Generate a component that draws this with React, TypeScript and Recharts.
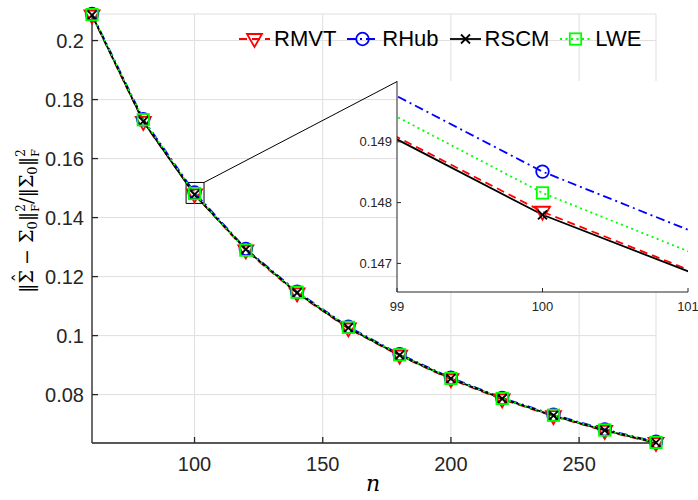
import React from "react";
import {
  LineChart, Line, XAxis, YAxis, CartesianGrid, ReferenceArea, ReferenceLine,
} from "recharts";

// ── data ───────────────────────────────────────────────────────────────────
const nValues = [60, 80, 100, 120, 140, 160, 180, 200, 220, 240, 260, 280];
const rmvt = [0.2085, 0.17245, 0.14785, 0.12885, 0.1143, 0.1024, 0.0932, 0.0852, 0.0784, 0.0727, 0.0677, 0.0636];
const rhub = [0.209, 0.17331, 0.14851, 0.12937, 0.1149, 0.103, 0.0937, 0.0857, 0.0789, 0.0732, 0.0682, 0.064];
const rscm = [0.2086, 0.1726, 0.1478, 0.1292, 0.1145, 0.1026, 0.0934, 0.0854, 0.0786, 0.0729, 0.0679, 0.0637];
const lwe = [0.2088, 0.17316, 0.14816, 0.12896, 0.1147, 0.1028, 0.0935, 0.0855, 0.0787, 0.073, 0.068, 0.0638];

const xTicks = [100, 150, 200, 250];
const yTicks = [0.08, 0.1, 0.12, 0.14, 0.16, 0.18, 0.2];
const insetXTicks = [99, 100, 101];
const insetYTicks = [0.147, 0.148, 0.149];
const insetXDomain = [99, 101];
const insetYDomain = [0.14653, 0.15];

// zoom box around n = 100 and the line joining it to the inset
const zoomBox = { x1: 96.7, x2: 103.7, y1: 0.1448, y2: 0.1519 };
const zoomLink = [{ x: 103.7, y: 0.1519 }, { x: 179, y: 0.1861 }];

const data = nValues.map((n, i) => ({ n, rmvt: rmvt[i], rhub: rhub[i], rscm: rscm[i], lwe: lwe[i] }));
const allY = [...rmvt, ...rhub, ...rscm, ...lwe];
const yDomain = [Math.min(...allY), Math.max(...allY)];
const xDomain = [nValues[0], nValues[nValues.length - 1]];

type MarkerType = "tri" | "circle" | "cross" | "square";
const series: { key: string; name: string; color: string; dash?: string; marker: MarkerType }[] = [
  { key: "rmvt", name: "RMVT", color: "#ff0000", dash: "8 5", marker: "tri" },
  { key: "rhub", name: "RHub", color: "#0000ff", dash: "9 4 2 4", marker: "circle" },
  { key: "rscm", name: "RSCM", color: "#000000", marker: "cross" },
  { key: "lwe", name: "LWE", color: "#00ff00", dash: "2 3.5", marker: "square" },
];

const AXIS = "#262626";
const SANS = "'Liberation Sans', Arial, Helvetica, sans-serif";
const SERIF = "'DejaVu Serif', serif";

function Marker({ type, cx, cy, color }: { type: MarkerType; cx: number; cy: number; color: string }) {
  const common = { fill: "none", stroke: color, strokeWidth: 1.8 };
  if (type === "tri")
    return <polygon points={`${cx - 7.5},${cy - 5} ${cx + 7.5},${cy - 5} ${cx},${cy + 8}`} {...common} />;
  if (type === "circle") return <circle cx={cx} cy={cy} r={6.3} {...common} />;
  if (type === "square") return <rect x={cx - 5.7} y={cy - 5.7} width={11.4} height={11.4} {...common} />;
  return (
    <path d={`M${cx - 4.5},${cy - 4.5}L${cx + 4.5},${cy + 4.5}M${cx - 4.5},${cy + 4.5}L${cx + 4.5},${cy - 4.5}`} {...common} />
  );
}

// ── axis labels ────────────────────────────────────────────────────────────
const YLabel = () => (
  <text
    x={33} y={221} transform="rotate(-90 33 221)" textAnchor="middle"
    fontFamily={SERIF} fontSize={19} fill="#000"
  >
    ‖Σ
    <tspan dx={-12.5} dy={-6}>ˆ</tspan>
    <tspan dx={2} dy={6}> − Σ</tspan>
    <tspan fontSize={13} dy={4}>0</tspan>
    <tspan dy={-4}>‖</tspan>
    <tspan fontSize={12} dy={-8}>2</tspan>
    <tspan fontSize={11} dx={-7.5} dy={14}>F</tspan>
    <tspan dy={-6}>/‖Σ</tspan>
    <tspan fontSize={13} dy={4}>0</tspan>
    <tspan dy={-4}>‖</tspan>
    <tspan fontSize={12} dy={-8}>2</tspan>
    <tspan fontSize={11} dx={-7.5} dy={14}>F</tspan>
  </text>
);

const XLabel = () => (
  <text x={373} y={491} textAnchor="middle" fontFamily={SERIF} fontStyle="italic" fontSize={22} fill="#000">
    n
  </text>
);

// ── legend ─────────────────────────────────────────────────────────────────
function LegendBox() {
  return (
    <div style={{ position: "absolute", left: 239, top: 26, display: "flex", alignItems: "center" }}>
      {series.map((s) => (
        <div key={s.key} style={{ display: "flex", alignItems: "center", marginRight: 11 }}>
          <svg width={31} height={26}>
            <line x1={0} y1={13} x2={31} y2={13} stroke={s.color} strokeWidth={1.8} strokeDasharray={s.dash} />
            <Marker type={s.marker} cx={15.5} cy={13} color={s.color} />
          </svg>
          <span style={{ fontFamily: SANS, fontSize: 22, lineHeight: "26px", marginLeft: 4, color: "#000" }}>{s.name}</span>
        </div>
      ))}
    </div>
  );
}

function renderLines() {
  return series.map((s) => (
    <Line
      key={s.key}
      dataKey={s.key}
      name={s.name}
      stroke={s.color}
      strokeWidth={1.8}
      strokeDasharray={s.dash}
      isAnimationActive={false}
      dot={(p: any) => <Marker key={`${s.key}-${p.index}`} type={s.marker} cx={p.cx} cy={p.cy} color={s.color} />}
      activeDot={false}
    />
  ));
}

export default function App() {
  const tickStyle = { fontSize: 20, fill: AXIS, fontFamily: SANS };
  const insetTick = { fontSize: 13, fill: AXIS, fontFamily: SANS };
  return (
    <div style={{ position: "absolute", left: 0, top: 0, width: 698, height: 500, background: "#fff", overflow: "hidden" }}>
      <LineChart width={698} height={500} data={data} margin={{ top: 14, right: 42, bottom: 27, left: 0 }}>
        <CartesianGrid stroke="#dfdfdf" strokeWidth={1} />
        <XAxis
          dataKey="n" type="number" domain={xDomain} ticks={xTicks} height={30}
          tickSize={-6} tickMargin={20} stroke={AXIS} strokeWidth={1.3} tick={tickStyle}
          label={{ content: XLabel }}
        />
        <XAxis xAxisId="top" orientation="top" type="number" domain={xDomain} ticks={xTicks} height={0}
          tickSize={-6} tick={false} stroke={AXIS} strokeWidth={1.3} />
        <YAxis
          type="number" domain={yDomain} ticks={yTicks} width={92}
          tickSize={-6} tickMargin={14} stroke={AXIS} strokeWidth={1.3} tick={tickStyle}
          tickFormatter={(v) => String(v)}
          label={{ content: YLabel }}
        />
        <YAxis yAxisId="right" orientation="right" type="number" domain={yDomain} ticks={yTicks} width={0}
          tickSize={-6} tick={false} stroke={AXIS} strokeWidth={1.3} />
        {renderLines()}
        <ReferenceArea x1={zoomBox.x1} x2={zoomBox.x2} y1={zoomBox.y1} y2={zoomBox.y2} fill="none" stroke="#000" strokeWidth={1} />
        <ReferenceLine segment={zoomLink} stroke="#000" strokeWidth={1} />
      </LineChart>

      <div style={{ position: "absolute", left: 340, top: 70 }}>
        <LineChart width={358} height={250} data={data} margin={{ top: 11, right: 10, bottom: 0, left: 0 }}>
          <CartesianGrid fill="#fff" horizontal={false} vertical={false} />
          <XAxis
            dataKey="n" type="number" domain={insetXDomain} allowDataOverflow ticks={insetXTicks} height={28}
            tickSize={-4} tickMargin={14} stroke={AXIS} tick={insetTick}
          />
          <XAxis xAxisId="top" orientation="top" type="number" domain={insetXDomain} allowDataOverflow ticks={insetXTicks}
            height={0} tickSize={-4} tick={false} stroke={AXIS} />
          <YAxis
            type="number" domain={insetYDomain} allowDataOverflow ticks={insetYTicks} width={57}
            tickSize={-4} tickMargin={9} stroke={AXIS} tick={insetTick} tickFormatter={(v) => String(v)}
          />
          <YAxis yAxisId="right" orientation="right" type="number" domain={insetYDomain} allowDataOverflow ticks={insetYTicks}
            width={0} tickSize={-4} tick={false} stroke={AXIS} />
          {renderLines()}
        </LineChart>
      </div>

      <LegendBox />
    </div>
  );
}
